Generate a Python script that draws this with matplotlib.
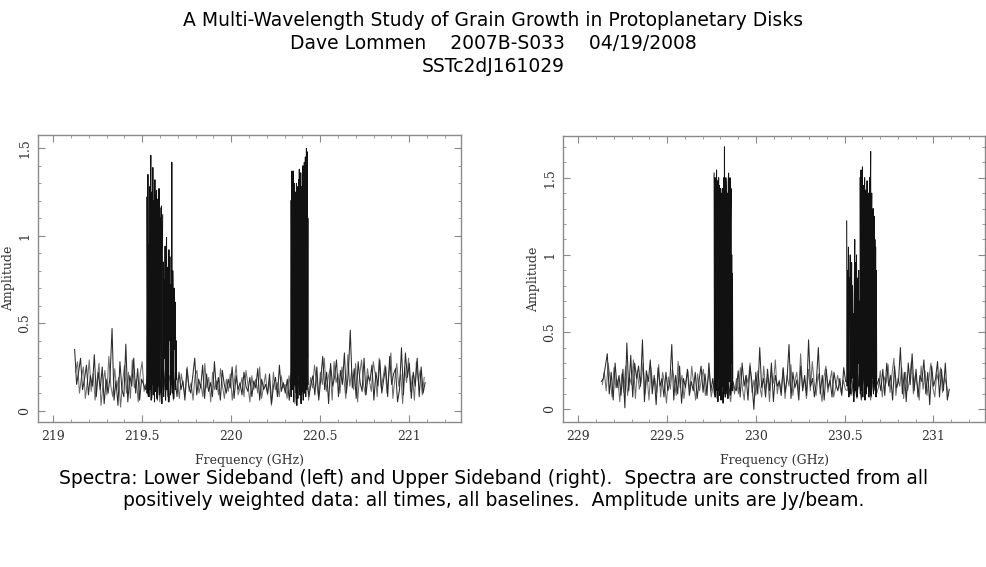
import matplotlib
matplotlib.use('Agg')
import matplotlib.pyplot as plt
from matplotlib.ticker import MultipleLocator
import numpy as np

# ---- lower sideband (amplitudes in units of 0.01 Jy/beam) ----
lsb_range = (219.12, 221.09)
lsb_cont = [35, 15, 22, 30, 12, 18, 26, 9, 20, 14, 32, 8, 22, 12, 25, 4, 18, 10, 20, 47,
            6, 17, 3, 28, 12, 8, 38, 5, 20, 14, 30, 10, 24, 6, 18, 15,
            12, 20, 8, 25, 10, 18, 6, 22, 9, 26, 12, 15, 5, 20, 10, 18,
            8, 22, 12, 17, 6, 24, 14, 10, 20, 30, 9, 18, 13, 26, 7, 21, 11, 16, 8, 28,
            12, 19, 6, 23, 15, 10, 18, 13, 25, 7, 20, 12, 16, 9, 22, 14, 11, 19, 8, 17,
            13, 24, 6, 18, 12, 15, 10, 21, 4, 14, 19, 8, 26, 11, 16,
            10, 18, 6, 22, 12, 16, 9, 20, 5, 24, 11, 17, 8, 15,
            20, 9, 25, 6, 18, 31, 12, 22, 4, 27, 14, 19, 29, 8, 23, 15, 33, 10, 21, 46,
            13, 24, 7, 28, 16, 11, 30, 9, 20, 17, 26, 6, 22, 14, 29, 10, 18, 25, 8, 31,
            15, 21, 24, 5, 12, 36, 9, 33, 19, 27, 7, 22, 14, 30, 8, 25, 10, 16]
lsb_range_b = (219.125, 221.085)
lsb_cont_b = [22, 28, 10, 19, 25, 7, 16, 29, 11, 21, 6, 18, 27, 3, 15, 23, 9, 31, 14, 8,
              24, 12, 19, 2, 16, 26, 10, 22, 7, 29, 13, 18, 5, 21, 28, 11,
              15, 9, 24, 7, 19, 13, 27, 5, 17, 11, 23, 8, 20, 14, 6, 22,
              17, 7, 21, 14, 9, 25, 11, 16, 6, 20, 23, 10, 15, 8, 27, 13, 19, 5, 22, 12,
              17, 9, 24, 14, 7, 18, 11, 21, 6, 16, 26, 9, 13, 19, 8, 23, 15, 5, 20, 12,
              18, 10, 25, 7, 14, 21, 9, 17, 3, 22, 12, 16, 8, 20, 13,
              15, 7, 20, 11, 25, 4, 18, 13, 22, 9, 16, 27, 6, 19,
              13, 26, 17, 8, 22, 15, 30, 11, 19, 24, 6, 28, 16, 21, 10, 25, 18, 7, 32, 14,
              23, 12, 27, 5, 20, 29, 15, 9, 24, 17, 11, 28, 21, 8, 30, 13, 19, 26, 10, 22,
              33, 7, 18, 27, 14, 21, 4, 25, 16, 30, 11, 20, 6, 28, 17, 23, 9, 19]

lsb_chunk1_range = (219.525, 219.615)
lsb_chunk1 = [122, 10, 60, 135, 8, 95, 40, 128, 12, 110, 146, 6, 70, 125, 15, 139, 9, 88, 120, 5,
              132, 45, 11, 118, 126, 7, 98, 121, 14, 80, 127, 9, 116, 60, 110, 10, 117, 4, 90, 112]
lsb_chunk2_range = (219.615, 219.693)
lsb_chunk2 = [20, 85, 8, 75, 30, 94, 6, 70, 99, 12, 60, 82, 5, 92, 40, 88, 9, 72, 15, 142,
              10, 80, 62, 7, 70, 35, 62, 12, 40, 18]
lsb_chunk3_range = (220.335, 220.433)
lsb_chunk3 = [120, 8, 90, 137, 12, 110, 60, 137, 5, 118, 130, 15, 95, 40, 125, 10, 130, 3, 100, 128,
              7, 85, 132, 20, 138, 9, 110, 60, 136, 4, 120, 128, 11, 92, 140, 6, 115, 50, 142, 10,
              130, 145, 8, 120, 150, 12, 148, 30, 110, 15]

# ---- upper sideband ----
usb_range = (229.13, 231.09)
usb_cont = [18, 20, 28, 36, 10, 24, 6, 30, 14, 22, 9, 26, 1, 43, 12, 35, 8, 30, 20, 28,
            15, 45, 5, 25, 18, 32, 10, 22, 3, 27, 15, 20, 8, 24, 12, 18, 42, 6, 22, 10,
            28, 4, 20, 14, 26, 9, 18, 12, 24, 7, 19, 28, 11, 23, 9, 30, 12, 20,
            8, 20, 12, 18, 6, 22, 10, 16, 9, 20, 14,
            12, 25, 8, 30, 15, 22, 6, 28, 18, 0, 24, 10, 40, 14, 20, 8, 26, 12, 30, 5,
            22, 15, 18, 9, 27, 11, 20, 42, 7, 24, 14, 19, 6, 28, 12, 22, 9, 45, 15, 20,
            8, 18, 40, 10, 22, 6, 26, 14, 19, 8, 24, 16, 12, 20, 9, 27, 18,
            18, 10, 22, 8, 16, 12, 20, 6, 24, 10, 18, 14, 8, 22, 12, 16,
            20, 12, 26, 9, 30, 15, 22, 6, 28, 14, 18, 40, 10, 24, 5, 30, 16, 36, 12, 26,
            8, 22, 18, 32, 10, 24, 3, 28, 15, 20, 31, 8, 26, 12, 30, 6, 13]
usb_range_b = (229.135, 231.085)
usb_cont_b = [16, 24, 12, 30, 20, 8, 27, 14, 19, 5, 23, 11, 28, 9, 21, 16, 32, 7, 25, 13,
              18, 30, 10, 22, 6, 27, 15, 20, 11, 29, 8, 24, 17, 4, 21, 13, 26, 19, 9, 31,
              14, 22, 7, 18, 25, 11, 28, 16, 6, 23, 12, 20, 26, 9, 17, 24, 8, 15,
              19, 7, 24, 11, 17, 8, 21, 13, 5, 18, 10,
              20, 10, 27, 14, 6, 22, 17, 30, 11, 19, 9, 25, 15, 8, 28, 13, 21, 5, 24, 17,
              32, 10, 19, 12, 26, 7, 22, 15, 29, 9, 18, 24, 11, 36, 14, 20, 7, 26, 12, 31,
              17, 9, 23, 15, 5, 21, 28, 11, 18, 25, 8, 14, 22, 16, 10, 19, 13,
              12, 24, 9, 19, 14, 7, 22, 11, 17, 25, 13, 20, 6, 18, 15, 10,
              14, 25, 8, 21, 17, 29, 11, 23, 33, 9, 20, 15, 27, 7, 24, 12, 19, 31, 10, 22,
              16, 6, 28, 13, 25, 9, 20, 30, 14, 8, 23, 18, 27, 11, 21, 16, 9]

usb_chunk1_range = (229.765, 229.870)
usb_chunk1 = [153, 10, 120, 150, 8, 140, 60, 155, 12, 130, 148, 5, 100, 150, 20, 145, 9, 135, 70, 143,
              6, 128, 140, 15, 110, 143, 4, 125, 150, 10, 170, 30, 140, 8, 150, 143, 12, 120, 60, 140,
              7, 148, 153, 18, 135, 90, 150, 10, 120, 143, 30, 100, 12, 88, 20]
usb_chunk2_range = (230.512, 230.585)
usb_chunk2 = [122, 15, 90, 40, 105, 8, 85, 70, 100, 10, 60, 95, 20, 80, 45, 62, 5, 75, 110, 12,
              95, 40, 100, 8, 85, 60, 30, 90, 15, 70]
usb_chunk3_range = (230.587, 230.681)
usb_chunk3 = [150, 10, 130, 155, 12, 140, 60, 157, 8, 135, 145, 20, 120, 150, 6, 142, 100, 138, 10, 125,
              148, 15, 130, 50, 140, 8, 120, 150, 12, 135, 167, 9, 110, 140, 20, 125, 60, 130, 10, 105,
              125, 15, 110, 40, 105, 8, 90, 20]

title_lines = ["A Multi-Wavelength Study of Grain Growth in Protoplanetary Disks",
               "Dave Lommen    2007B-S033    04/19/2008",
               "SSTc2dJ161029"]
caption_lines = ["Spectra: Lower Sideband (left) and Upper Sideband (right).  Spectra are constructed from all",
                 "positively weighted data: all times, all baselines.  Amplitude units are Jy/beam."]


def draw_spectrum(ax, pieces, xlim, ylim, xticks):
    for rng, vals, col in pieces:
        f = np.linspace(rng[0], rng[1], len(vals))
        ax.plot(f, np.array(vals) / 100.0, color=col, lw=0.75)
    ax.set_xlim(*xlim)
    ax.set_ylim(*ylim)
    ax.set_xticks(xticks)
    ax.set_xticklabels([('%g' % t) for t in xticks])
    ax.xaxis.set_minor_locator(MultipleLocator(0.1))
    ax.set_yticks([0, 0.5, 1, 1.5])
    ax.set_yticklabels(['0', '0.5', '1', '1.5'], rotation=90, va='center')
    ax.yaxis.set_minor_locator(MultipleLocator(0.1))
    ax.tick_params(which='both', direction='in', top=True, right=True,
                   colors='#8a8a8a', labelcolor='#333333', labelsize=9)
    ax.tick_params(which='major', length=5)
    ax.tick_params(which='minor', length=2.5)
    ax.tick_params(axis='x', pad=6)
    ax.tick_params(axis='y', pad=5)
    for lab in ax.get_xticklabels() + ax.get_yticklabels():
        lab.set_family('DejaVu Serif')
    for s in ax.spines.values():
        s.set_color('#8a8a8a')
        s.set_linewidth(1.0)
    ax.set_xlabel('Frequency (GHz)', family='DejaVu Serif', fontsize=9, color='#333333', labelpad=8)
    ax.set_ylabel('Amplitude', family='DejaVu Serif', fontsize=9, color='#333333', labelpad=2)


fig = plt.figure(figsize=(9.87, 5.67), dpi=100)

ax1 = fig.add_axes([0.0385, 0.2557, 0.4286, 0.5062])
draw_spectrum(ax1, [(lsb_range_b, lsb_cont_b, '#6e6e6e'), (lsb_range, lsb_cont, '#2a2a2a'),
                    (lsb_chunk1_range, lsb_chunk1, '#111111'), (lsb_chunk2_range, lsb_chunk2, '#111111'),
                    (lsb_chunk3_range, lsb_chunk3, '#111111')],
              (218.914, 221.292), (-0.065, 1.576), [219, 219.5, 220, 220.5, 221])

ax2 = fig.add_axes([0.5707, 0.2557, 0.4272, 0.5044])
draw_spectrum(ax2, [(usb_range_b, usb_cont_b, '#6e6e6e'), (usb_range, usb_cont, '#2a2a2a'),
                    (usb_chunk1_range, usb_chunk1, '#111111'), (usb_chunk2_range, usb_chunk2, '#111111'),
                    (usb_chunk3_range, usb_chunk3, '#111111')],
              (228.915, 231.291), (-0.082, 1.77), [229, 229.5, 230, 230.5, 231])

for i, line in enumerate(title_lines):
    fig.text(493 / 987, 1 - (21 + 22.5 * i) / 567, line, ha='center', va='center',
             fontsize=13.5, family='DejaVu Sans')
for i, line in enumerate(caption_lines):
    fig.text(494 / 987, 1 - (479 + 21.5 * i) / 567, line, ha='center', va='center',
             fontsize=13.5, family='DejaVu Sans')

fig.savefig('out.png', dpi=100)
